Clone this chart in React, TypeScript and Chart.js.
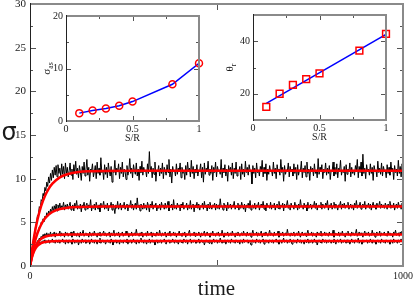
import React, { useEffect, useRef } from 'react';
import { Chart, registerables } from 'chart.js';
Chart.register(...registerables);

// ---------- main panel data (sampled every 2.5 time units, 0..1000) ----------
const T_END = 1000;

const SIGMA_1 = [
  0, 0.9, 1.9, 2.4, 3.4, 3.7, 4.6, 4.9, 5.8, 5.9, 6.8, 6.6, 7.6, 7.4, 8.3, 8.0, 9.0, 8.6, 9.6, 9.1,
  10.2, 9.5, 10.6, 9.8, 11.0, 10.1, 11.3, 10.4, 11.5, 10.2, 11.6, 10.6, 11.2, 10.3, 11.7, 10.5, 11.4, 10.0, 11.8, 10.6,
  11.3, 10.2, 10.9, 11.8, 10.4, 11.1, 9.9, 11.6, 10.7, 12.0, 10.5, 11.2, 10.1, 11.5, 10.8, 9.8, 11.4, 10.6, 11.9, 10.3,
  11.0, 12.2, 10.4, 11.3, 9.7, 11.1, 10.9, 11.7, 10.2, 10.8, 11.5, 10.0, 11.9, 10.6, 11.2, 10.4, 12.4, 10.7, 11.0, 9.9,
  11.6, 10.5, 11.3, 10.1, 11.8, 10.9, 10.3, 11.4, 9.6, 11.0, 10.7, 12.1, 10.4, 11.2, 10.8, 11.7, 10.0, 11.3, 10.6, 11.9,
  10.2, 11.1, 10.8, 9.9, 11.5, 10.4, 11.0, 12.3, 10.6, 11.2, 10.1, 11.6, 10.9, 10.5, 11.8, 10.3, 11.1, 9.8, 11.4, 10.7,
  12.0, 10.4, 11.3, 10.8, 11.0, 10.2, 11.7, 10.6, 13.1, 10.9, 11.4, 10.1, 11.2, 10.5, 11.9, 9.7, 11.0, 10.8, 11.5, 10.3,
  11.2, 10.6, 11.8, 10.0, 11.3, 10.9, 10.4, 11.6, 10.7, 12.2, 10.2, 11.1, 9.5, 11.4, 10.8, 11.0, 10.3, 11.7, 10.5, 11.2,
  10.9, 11.8, 10.1, 11.3, 10.6, 11.0, 9.9, 11.5, 10.4, 11.9, 10.8, 11.2, 10.2, 12.1, 10.6, 11.4, 10.0, 11.1, 10.7, 11.6,
  10.3, 11.0, 10.9, 11.7, 10.1, 11.3, 9.6, 11.8, 10.5, 11.2, 10.8, 12.0, 10.4, 11.1, 10.6, 11.5, 9.8, 11.3, 10.7, 11.9,
  10.2, 11.4, 10.9, 11.0, 10.5, 12.2, 10.1, 11.2, 10.7, 11.6, 10.3, 11.1, 9.7, 11.5, 10.8, 11.3, 10.4, 11.8, 10.0, 11.2,
  10.6, 11.9, 10.3, 11.0, 10.8, 11.4, 9.9, 11.7, 10.5, 11.1, 10.2, 12.0, 10.7, 11.3, 10.4, 11.6, 10.9, 11.0, 9.4, 11.5,
  10.6, 11.2, 10.1, 11.8, 10.7, 11.0, 10.3, 11.4, 10.9, 12.1, 10.2, 11.3, 10.6, 11.7, 9.8, 11.1, 10.5, 11.5, 10.8, 11.0,
  10.3, 11.9, 10.6, 11.2, 10.0, 11.6, 10.8, 11.1, 10.4, 12.2, 10.7, 11.3, 9.7, 11.5, 10.5, 11.0, 10.9, 11.8, 10.2, 11.4,
  10.8, 11.1, 10.3, 11.7, 10.6, 11.3, 9.9, 11.6, 10.4, 11.0, 10.9, 12.0, 10.1, 11.2, 10.7, 11.5, 10.2, 11.9, 10.6, 11.1,
  9.8, 11.4, 10.8, 11.2, 10.3, 11.7, 10.6, 11.0, 10.1, 12.3, 10.5, 11.3, 10.9, 11.6, 10.0, 11.1, 10.7, 11.8, 10.4, 11.2,
  10.6, 11.5, 9.9, 11.0, 10.8, 11.9, 10.3, 11.3, 10.5, 11.7, 10.1, 11.2, 10.9, 12.1, 10.4, 11.0, 10.7, 11.4, 9.7, 11.6,
  10.5, 11.1, 10.8, 11.8, 10.2, 11.3, 10.6, 11.0, 10.4, 11.5, 10.9, 12.2, 10.1, 11.4, 10.7, 11.9, 10.3, 12.8, 10.6, 11.2,
  10.0, 11.6, 10.8, 11.1, 10.4, 11.7, 10.6, 11.3, 9.8, 11.5, 10.9, 11.0, 10.2, 12.0, 10.7, 11.2, 10.5, 11.8, 10.3, 11.4,
  10.9, 11.0, 10.1, 11.6, 10.6, 11.3, 10.4, 11.9, 10.8, 11.2, 9.9, 11.5, 10.7, 11.1, 10.3, 12.1, 10.6, 11.4, 10.2, 11.7,
  11.0,
];

const SIGMA_2 = [
  0, 0.7, 1.4, 1.8, 2.4, 2.7, 3.2, 3.4, 3.9, 3.9, 4.5, 4.4, 5.0, 4.8, 5.4, 5.1, 5.7, 5.5, 6.1, 5.7,
  6.3, 5.9, 6.5, 6.1, 6.8, 6.2, 6.9, 6.4, 7.1, 6.3, 7.0, 6.6, 7.2, 6.5, 6.9, 6.7, 7.3, 6.4, 7.0, 6.6,
  7.1, 6.5, 6.9, 7.3, 6.4, 6.8, 7.0, 6.3, 7.2, 6.7, 7.5, 6.5, 6.9, 6.6, 7.1, 6.2, 7.0, 6.8, 7.3, 6.4,
  6.9, 7.2, 6.5, 7.0, 6.7, 7.6, 6.3, 6.9, 6.6, 7.1, 6.4, 7.3, 6.8, 6.5, 7.0, 6.2, 7.2, 6.7, 6.9, 7.4,
  6.5, 7.0, 6.6, 7.2, 6.3, 6.9, 6.8, 7.3, 6.4, 7.1, 6.7, 6.0, 7.0, 6.6, 7.4, 6.5, 6.9, 7.2, 6.4, 7.0,
  6.7, 7.3, 6.5, 6.9, 7.1, 6.3, 7.0, 6.8, 7.5, 6.6, 7.1, 6.4, 6.9, 7.2, 6.5, 7.8, 6.7, 7.0, 6.3, 7.1,
  6.8, 6.5, 7.2, 6.6, 7.0, 6.4, 7.3, 6.9, 6.2, 7.1, 6.7, 7.4, 6.5, 7.0, 6.8, 7.2, 6.3, 6.9, 6.6, 7.1,
  6.4, 7.3, 6.8, 7.0, 6.5, 7.2, 6.6, 6.9, 7.4, 6.3, 7.0, 6.7, 7.1, 6.4, 7.6, 6.6, 6.9, 6.5, 7.2, 6.8,
  7.0, 6.3, 7.1, 6.7, 7.3, 6.5, 6.9, 6.8, 7.2, 6.4, 7.0, 6.6, 7.5, 6.5, 6.9, 7.1, 6.2, 7.0, 6.7, 7.3,
  6.6, 7.1, 6.4, 6.9, 6.8, 7.2, 6.5, 7.4, 6.7, 7.0, 6.3, 7.1, 6.6, 7.3, 6.8, 6.5, 7.0, 6.9, 7.2, 6.4,
  7.1, 6.6, 7.0, 6.5, 7.7, 6.8, 6.9, 6.4, 7.2, 6.7, 7.0, 6.3, 7.3, 6.6, 6.9, 7.1, 6.5, 7.0, 6.8, 7.4,
  6.5, 6.9, 6.7, 7.2, 6.4, 7.0, 6.6, 7.3, 6.8, 6.5, 7.1, 6.2, 7.0, 6.7, 7.2, 6.6, 7.5, 6.4, 6.9, 7.0,
  6.6, 7.2, 6.5, 7.0, 6.8, 7.3, 6.4, 6.9, 7.1, 6.7, 7.4, 6.5, 7.0, 6.3, 7.2, 6.8, 6.9, 6.6, 7.3, 6.5,
  7.0, 6.7, 7.2, 6.4, 6.9, 7.1, 6.6, 7.4, 6.5, 7.0, 6.8, 7.2, 6.3, 7.1, 6.7, 6.9, 7.5, 6.6, 7.0, 6.4,
  7.2, 6.8, 6.9, 6.5, 7.3, 6.7, 7.0, 6.4, 7.1, 6.6, 7.6, 6.8, 6.9, 6.5, 7.2, 6.7, 7.0, 6.3, 7.3, 6.6,
  6.9, 7.1, 6.5, 7.0, 6.8, 7.4, 6.6, 7.2, 6.4, 6.9, 7.0, 6.7, 7.3, 6.5, 7.1, 6.8, 6.6, 7.2, 6.9, 7.5,
  6.4, 7.0, 6.7, 7.2, 6.5, 6.9, 7.3, 6.6, 7.1, 6.8, 6.4, 7.0, 6.9, 7.4, 6.5, 7.1, 6.7, 7.2, 6.6, 7.0,
  6.8, 7.3, 6.5, 6.9, 7.1, 6.6, 7.0, 6.4, 7.2, 6.7, 7.5, 6.6, 7.0, 6.8, 7.3, 6.5, 6.9, 7.1, 6.7, 7.4,
  6.5, 7.0, 6.8, 7.2, 6.6, 7.1, 6.4, 6.9, 7.3, 6.7, 7.0, 6.5, 7.2, 6.8, 6.9, 7.4, 6.6, 7.1, 6.7, 7.0,
  6.6, 7.2, 6.9, 6.5, 7.1, 6.8, 7.4, 6.6, 7.0, 6.7, 7.2, 6.4, 6.9, 7.1, 6.6, 7.3, 6.8, 7.0, 6.5, 7.2,
  6.9,
];

const SIGMA_3 = [
  0, 0.6, 1.1, 1.5, 1.9, 2.1, 2.5, 2.5, 2.9, 2.8, 3.2, 3.0, 3.4, 3.2, 3.6, 3.3, 3.7, 3.4, 3.8, 3.4,
  3.7, 3.5, 3.9, 3.4, 3.7, 3.6, 3.9, 3.3, 3.8, 3.5, 3.7, 3.6, 4.0, 3.4, 3.8, 3.5, 3.7, 3.3, 3.9, 3.6,
  3.8, 3.4, 3.7, 3.5, 3.9, 3.3, 3.6, 4.0, 3.5, 3.7, 3.4, 3.8, 3.6, 3.3, 3.9, 3.5, 3.7, 4.1, 3.4, 3.6,
  3.8, 3.5, 3.7, 3.3, 3.9, 3.6, 3.4, 3.8, 3.5, 4.0, 3.6, 3.7, 3.3, 3.8, 3.5, 3.9, 3.4, 3.6, 3.7, 4.0,
  3.5, 3.8, 3.4, 3.7, 3.6, 3.9, 3.3, 3.8, 3.5, 3.7, 4.1, 3.4, 3.6, 3.8, 3.5, 3.9, 3.3, 3.7, 3.6, 3.9,
  3.4, 3.7, 3.5, 4.0, 3.6, 3.8, 3.3, 3.7, 3.5, 3.9, 3.4, 3.6, 3.8, 3.5, 4.2, 3.6, 3.7, 3.4, 3.8, 3.5,
  3.9, 3.3, 3.7, 3.6, 3.8, 3.4, 4.0, 3.5, 3.7, 3.6, 3.9, 3.3, 3.8, 3.5, 3.7, 3.4, 3.9, 3.6, 3.5, 4.1,
  3.6, 3.4, 3.8, 3.5, 3.7, 3.9, 3.3, 3.6, 3.8, 3.5, 4.0, 3.4, 3.7, 3.6, 3.9, 3.5, 3.8, 3.3, 3.7, 3.6,
  4.0, 3.5, 3.7, 3.4, 3.8, 3.6, 3.9, 3.3, 3.7, 3.5, 3.8, 4.1, 3.4, 3.6, 3.7, 3.5, 3.9, 3.4, 3.8, 3.6,
  3.5, 3.9, 3.6, 3.3, 3.8, 3.5, 3.7, 4.0, 3.4, 3.6, 3.9, 3.5, 3.7, 3.3, 3.8, 3.6, 4.0, 3.5, 3.7, 3.4,
  3.8, 3.6, 3.9, 3.4, 3.7, 3.5, 4.1, 3.6, 3.3, 3.8, 3.5, 3.7, 3.9, 3.4, 3.6, 3.8, 3.5, 4.0, 3.6, 3.7,
  3.3, 3.8, 3.5, 3.9, 3.6, 3.4, 3.7, 3.8, 3.5, 4.0, 3.6, 3.7, 3.4, 3.9, 3.5, 3.6, 3.8, 3.3, 3.7, 4.1,
  3.5, 3.7, 3.6, 3.9, 3.4, 3.8, 3.5, 3.7, 4.0, 3.3, 3.6, 3.8, 3.5, 3.9, 3.6, 3.4, 3.7, 4.1, 3.5, 3.8,
  3.6, 3.4, 3.9, 3.5, 3.7, 3.6, 4.0, 3.3, 3.8, 3.5, 3.7, 3.9, 3.4, 3.6, 3.8, 3.5, 4.2, 3.6, 3.7, 3.4,
  3.8, 3.5, 3.7, 3.9, 3.4, 3.6, 3.8, 3.5, 4.0, 3.6, 3.3, 3.7, 3.9, 3.5, 3.6, 3.8, 3.4, 3.7, 4.1, 3.5,
  3.7, 3.6, 3.9, 3.4, 3.8, 3.5, 3.7, 3.3, 3.9, 3.6, 3.8, 3.5, 4.0, 3.4, 3.7, 3.6, 3.9, 3.5, 3.8, 3.6,
  3.4, 3.9, 3.6, 3.7, 3.5, 4.1, 3.3, 3.8, 3.6, 3.7, 3.5, 3.9, 3.4, 3.8, 3.6, 4.0, 3.5, 3.7, 3.3, 3.8,
  3.6, 4.0, 3.5, 3.7, 3.4, 3.9, 3.6, 3.8, 3.5, 3.7, 4.2, 3.4, 3.6, 3.9, 3.5, 3.8, 3.6, 3.3, 3.7, 4.0,
  3.5, 3.8, 3.6, 3.9, 3.4, 3.7, 3.5, 4.1, 3.6, 3.8, 3.3, 3.7, 3.9, 3.5, 3.6, 4.0, 3.4, 3.8, 3.6, 3.7,
  3.9, 3.5, 3.7, 3.4, 4.0, 3.6, 3.8, 3.5, 3.7, 3.3, 3.9, 3.6, 4.1, 3.5, 3.7, 3.8, 3.4, 3.9, 3.6, 4.0,
  3.7,
];

const SIGMA_4 = [
  0, 0.6, 1.1, 1.4, 1.7, 1.9, 2.2, 2.2, 2.5, 2.4, 2.7, 2.5, 2.8, 2.6, 2.9, 2.7, 3.0, 2.6, 2.9, 2.7,
  3.0, 2.6, 2.9, 2.8, 3.1, 2.7, 2.9, 2.6, 3.0, 2.8, 2.7, 3.0, 2.6, 2.9, 2.8, 3.1, 2.7, 2.9, 2.5, 3.0,
  2.8, 2.6, 3.0, 2.7, 2.9, 2.5, 3.1, 2.8, 2.6, 2.9, 2.7, 3.0, 2.4, 2.8, 2.9, 2.6, 3.1, 2.7, 2.8, 3.0,
  2.6, 2.9, 2.7, 3.0, 2.5, 2.8, 3.1, 2.7, 2.9, 2.6, 3.0, 2.8, 2.5, 2.9, 2.7, 3.2, 2.6, 2.8, 3.0, 2.7,
  2.9, 2.5, 2.8, 3.0, 2.7, 2.9, 2.6, 3.1, 2.8, 2.4, 2.9, 2.7, 3.0, 2.6, 2.8, 2.9, 2.5, 3.0, 2.7, 2.9,
  2.6, 3.0, 2.8, 2.7, 3.1, 2.5, 2.9, 2.7, 3.0, 2.6, 2.8, 3.1, 2.7, 2.9, 2.5, 3.0, 2.8, 2.6, 2.9, 3.2,
  2.7, 2.9, 2.6, 3.0, 2.8, 2.5, 2.9, 2.7, 3.1, 2.6, 2.8, 3.0, 2.7, 2.9, 2.4, 2.8, 3.0, 2.6, 2.9, 2.7,
  3.0, 2.6, 2.9, 2.8, 3.1, 2.7, 2.5, 2.9, 2.8, 3.0, 2.6, 2.9, 2.7, 3.1, 2.8, 2.6, 3.0, 2.7, 2.9, 2.5,
  2.8, 3.0, 2.7, 2.9, 2.6, 3.1, 2.8, 2.7, 3.0, 2.5, 2.9, 2.8, 3.1, 2.6, 2.9, 2.7, 3.0, 2.8, 2.6, 2.9,
  2.7, 3.1, 2.6, 2.8, 3.0, 2.7, 2.9, 2.4, 2.8, 3.0, 2.7, 2.9, 2.6, 3.0, 2.8, 2.5, 2.9, 3.1, 2.7, 2.8,
  3.0, 2.6, 2.9, 2.7, 3.2, 2.8, 2.6, 2.9, 2.7, 3.0, 2.5, 2.8, 3.0, 2.7, 2.9, 2.6, 3.1, 2.8, 2.7, 2.9,
  2.6, 3.0, 2.8, 2.7, 2.9, 2.5, 3.0, 2.8, 2.6, 3.1, 2.7, 2.9, 2.8, 3.0, 2.6, 2.9, 2.7, 2.4, 2.9, 3.0,
  2.7, 2.9, 2.6, 3.1, 2.8, 2.7, 3.0, 2.6, 2.9, 2.8, 3.1, 2.5, 2.8, 3.0, 2.7, 2.9, 2.6, 3.0, 2.8, 2.7,
  3.0, 2.6, 2.9, 2.8, 3.1, 2.7, 2.9, 2.5, 3.0, 2.8, 2.6, 2.9, 3.2, 2.7, 2.8, 3.0, 2.6, 2.9, 2.7, 3.1,
  2.8, 2.5, 2.9, 3.0, 2.7, 2.9, 2.6, 3.1, 2.8, 2.7, 3.0, 2.6, 2.9, 2.8, 2.5, 3.0, 2.7, 2.9, 3.1, 2.6,
  2.9, 2.7, 3.0, 2.6, 2.8, 3.1, 2.7, 2.9, 2.4, 2.8, 3.0, 2.7, 2.9, 2.6, 3.1, 2.8, 2.7, 3.0, 2.6, 2.9,
  2.7, 3.0, 2.8, 2.6, 2.9, 2.7, 3.1, 2.8, 2.5, 2.9, 3.0, 2.7, 2.8, 3.1, 2.6, 2.9, 2.7, 3.0, 2.8, 2.6,
  3.0, 2.7, 2.9, 2.5, 2.8, 3.1, 2.7, 2.9, 2.6, 3.0, 2.8, 2.7, 3.2, 2.6, 2.9, 2.8, 2.5, 3.0, 2.7, 2.9,
  2.8, 3.0, 2.6, 2.9, 2.7, 3.1, 2.8, 2.6, 3.0, 2.7, 2.9, 2.5, 2.8, 3.0, 2.7, 2.9, 2.6, 3.1, 2.8, 2.7,
  2.9, 2.6, 3.0, 2.8, 2.7, 2.9, 2.5, 3.0, 2.8, 2.6, 3.1, 2.7, 2.9, 2.8, 2.6, 3.0, 2.7, 2.9, 3.1, 2.8,
  2.9,
];

// fitted curves (red), read at these times
const FIT_TIME = [0, 5, 10, 15, 20, 30, 40, 50, 60, 80, 100, 130, 160, 200, 300, 400, 500, 600, 700, 800, 900, 1000];
const FIT_1 = [0, 1.68, 3.09, 4.29, 5.31, 6.89, 8.02, 8.84, 9.43, 10.15, 10.51, 10.76, 10.85, 10.89, 10.9, 10.9, 10.9, 10.9, 10.9, 10.9, 10.9, 10.9];
const FIT_2 = [0, 1.23, 2.24, 3.07, 3.75, 4.75, 5.43, 5.88, 6.18, 6.52, 6.68, 6.76, 6.79, 6.8, 6.8, 6.8, 6.8, 6.8, 6.8, 6.8, 6.8, 6.8];
const FIT_3 = [0, 1.02, 1.75, 2.28, 2.65, 3.11, 3.35, 3.47, 3.53, 3.58, 3.6, 3.6, 3.6, 3.6, 3.6, 3.6, 3.6, 3.6, 3.6, 3.6, 3.6, 3.6];
const FIT_4 = [0, 0.97, 1.61, 2.03, 2.31, 2.62, 2.75, 2.8, 2.83, 2.85, 2.85, 2.85, 2.85, 2.85, 2.85, 2.85, 2.85, 2.85, 2.85, 2.85, 2.85, 2.85];

const MAIN_X_TICKS = [0, 500, 1000];
const MAIN_X_LABELS = [0, 1000];
const MAIN_Y_TICKS = [0, 5, 10, 15, 20, 25, 30];
const MAIN_Y_MINOR = [2.5, 7.5, 12.5, 17.5, 22.5, 27.5];

// ---------- insets ----------
const SR = [0.1, 0.2, 0.3, 0.4, 0.5, 0.8, 1.0];
const SIGMA_AS = [1.5, 2.0, 2.4, 2.9, 3.7, 7.0, 11.0];
const THETA_R = [15.0, 20.0, 23.4, 25.6, 27.8, 36.4, 42.8];
const THETA_FIT_SR = [0.1, 1.0];
const THETA_FIT = [16.3, 42.6];

const INSET_X_TICKS = [0, 0.5, 1];
const INSET_X_MINOR = [0.25, 0.75];
const SIG_Y_TICKS = [0, 10, 20];
const SIG_Y_MINOR = [5, 15];
const THETA_Y_TICKS = [10, 20, 30, 40, 50];
const THETA_Y_LABELS = [20, 40];
const THETA_Y_MAJOR = [20, 40];
const THETA_Y_MINOR = [10, 30, 50];

const SERIF = "'Liberation Serif', 'DejaVu Serif', serif";
const SANS = "'DejaVu Sans', sans-serif";
const INK = '#1a1a1a';

const seriesXY = (vals: number[]) => vals.map((v, i) => ({ x: (i * T_END) / (vals.length - 1), y: v }));
const pairXY = (xs: number[], ys: number[]) => xs.map((x, i) => ({ x, y: ys[i] }));

type FrameCfg = {
  xMajor: number[]; xMinor: number[]; yMajor: number[]; yMinor: number[];
  majorLen: number; minorLen: number;
  texts: (ctx: CanvasRenderingContext2D, a: any) => void;
};

const framePlugin = (cfg: FrameCfg) => ({
  id: 'frame',
  afterDraw(chart: any) {
    const { ctx, chartArea: a, scales } = chart;
    const xs = scales.x, ys = scales.y;
    ctx.save();
    ctx.strokeStyle = '#555';
    ctx.lineWidth = 1;
    ctx.beginPath();
    const vt = (v: number, len: number) => {
      const px = Math.round(xs.getPixelForValue(v)) + 0.5;
      ctx.moveTo(px, a.bottom); ctx.lineTo(px, a.bottom - len);
      ctx.moveTo(px, a.top); ctx.lineTo(px, a.top + len);
    };
    const ht = (v: number, len: number) => {
      const py = Math.round(ys.getPixelForValue(v)) + 0.5;
      ctx.moveTo(a.left, py); ctx.lineTo(a.left + len, py);
      ctx.moveTo(a.right, py); ctx.lineTo(a.right - len, py);
    };
    cfg.xMajor.forEach((v) => vt(v, cfg.majorLen));
    cfg.xMinor.forEach((v) => vt(v, cfg.minorLen));
    cfg.yMajor.forEach((v) => ht(v, cfg.majorLen));
    cfg.yMinor.forEach((v) => ht(v, cfg.minorLen));
    ctx.stroke();
    ctx.strokeStyle = '#8a8a8a';
    ctx.lineWidth = 2;
    ctx.beginPath();
    ctx.moveTo(a.left, a.top); ctx.lineTo(a.right, a.top); ctx.lineTo(a.right, a.bottom); ctx.lineTo(a.left, a.bottom);
    ctx.stroke();
    ctx.strokeStyle = '#222';
    ctx.lineWidth = 1;
    ctx.beginPath();
    ctx.moveTo(a.left + 0.5, a.top - 1); ctx.lineTo(a.left + 0.5, a.bottom + 1);
    ctx.stroke();
    ctx.fillStyle = INK;
    cfg.texts(ctx, a);
    ctx.restore();
  },
});

const rotatedSubLabel = (ctx: CanvasRenderingContext2D, x: number, y: number, main: string, sub: string, size: number) => {
  ctx.save();
  ctx.translate(x, y);
  ctx.rotate(-Math.PI / 2);
  ctx.textBaseline = 'alphabetic';
  ctx.textAlign = 'left';
  ctx.font = `${size}px ${SERIF}`;
  const w1 = ctx.measureText(main).width;
  ctx.font = `${size * 0.7}px ${SERIF}`;
  const w2 = ctx.measureText(sub).width;
  const start = -(w1 + w2) / 2;
  ctx.font = `${size}px ${SERIF}`;
  ctx.fillText(main, start, size * 0.35);
  ctx.font = `${size * 0.7}px ${SERIF}`;
  ctx.fillText(sub, start + w1, size * 0.6);
  ctx.restore();
};

const fixedScale = (min: number, max: number, ticks: number[], labels: number[], fontSize: number, pad: number) => ({
  type: 'linear' as const,
  min, max,
  afterBuildTicks: (s: any) => { s.ticks = ticks.map((value) => ({ value })); },
  ticks: {
    autoSkip: false, maxRotation: 0, padding: pad, color: INK,
    font: { family: SERIF, size: fontSize },
    callback: (v: any) => (labels.includes(Number(v)) ? String(v) : ''),
  },
  grid: { display: false, drawTicks: false },
  border: { display: false },
});

function MainChart() {
  const ref = useRef<HTMLCanvasElement>(null);
  useEffect(() => {
    const fitDs = (d: number[]) => ({
      data: pairXY(FIT_TIME, d), borderColor: '#ff0000', borderWidth: 2.5, pointRadius: 0,
      cubicInterpolationMode: 'monotone' as const, fill: false,
    });
    const noiseDs = (d: number[]) => ({
      data: seriesXY(d), borderColor: '#000000', borderWidth: 1, pointRadius: 0, tension: 0, fill: false,
    });
    const xScale: any = fixedScale(0, T_END, MAIN_X_TICKS, MAIN_X_LABELS, 10, 4);
    xScale.afterFit = (s: any) => { s.height = 31; s.paddingLeft = 0; s.paddingRight = 0; };
    const yScale: any = fixedScale(0, 30, MAIN_Y_TICKS, MAIN_Y_TICKS, 11, 4);
    yScale.afterFit = (s: any) => { s.width = 30; s.paddingTop = 0; s.paddingBottom = 0; };
    const chart = new Chart(ref.current!, {
      type: 'line',
      data: {
        datasets: [fitDs(FIT_1), fitDs(FIT_2), fitDs(FIT_3), fitDs(FIT_4), noiseDs(SIGMA_1), noiseDs(SIGMA_2), noiseDs(SIGMA_3), noiseDs(SIGMA_4)],
      },
      options: {
        responsive: false, animation: false, parsing: false as any,
        layout: { padding: { top: 4, right: 12, left: 0, bottom: 0 } },
        plugins: { legend: { display: false }, tooltip: { enabled: false } },
        scales: { x: xScale, y: yScale },
      },
      plugins: [framePlugin({
        xMajor: MAIN_X_TICKS, xMinor: [], yMajor: MAIN_Y_TICKS, yMinor: MAIN_Y_MINOR,
        majorLen: 6, minorLen: 3,
        texts: (ctx, a) => {
          ctx.textAlign = 'center';
          ctx.textBaseline = 'alphabetic';
          ctx.font = `24px ${SANS}`;
          ctx.fillText('σ', a.left - 21, 140);
          ctx.font = `21px ${SERIF}`;
          ctx.fillText('time', (a.left + a.right) / 2, a.bottom + 29);
        },
      })],
    });
    return () => chart.destroy();
  }, []);
  return <canvas ref={ref} width={415} height={297} style={{ position: 'absolute', left: 0, top: 0, width: 415, height: 297 }} />;
}

function InsetChart(props: { kind: 'sigma' | 'theta'; left: number; top: number }) {
  const ref = useRef<HTMLCanvasElement>(null);
  useEffect(() => {
    const isSigma = props.kind === 'sigma';
    const datasets: any[] = isSigma
      ? [
          { data: pairXY(SR, SIGMA_AS), showLine: false, pointStyle: 'circle', pointRadius: 3.5, pointBorderWidth: 1.5,
            pointBorderColor: '#ff0000', pointBackgroundColor: 'rgba(0,0,0,0)', clip: false },
          { data: pairXY(SR, SIGMA_AS), borderColor: '#0000ff', borderWidth: 1.5, pointRadius: 0, tension: 0, fill: false },
        ]
      : [
          { data: pairXY(SR, THETA_R), showLine: false, pointStyle: 'rect', pointRadius: 4.8, pointBorderWidth: 1.5,
            pointBorderColor: '#ff0000', pointBackgroundColor: 'rgba(0,0,0,0)', clip: false },
          { data: pairXY(THETA_FIT_SR, THETA_FIT), borderColor: '#0000ff', borderWidth: 1.5, pointRadius: 0, tension: 0, fill: false },
        ];
    const xScale: any = fixedScale(0, 1, INSET_X_TICKS, INSET_X_TICKS, 10, 2);
    xScale.afterFit = (s: any) => { s.height = 23; s.paddingLeft = 0; s.paddingRight = 0; };
    const yScale: any = isSigma
      ? fixedScale(0, 20, SIG_Y_TICKS, SIG_Y_TICKS, 10, 3)
      : fixedScale(10, 50, THETA_Y_TICKS, THETA_Y_LABELS, 10, 3);
    yScale.afterFit = (s: any) => { s.width = 30; s.paddingTop = 0; s.paddingBottom = 0; };
    const chart = new Chart(ref.current!, {
      type: 'line',
      data: { datasets },
      options: {
        responsive: false, animation: false, parsing: false as any,
        layout: { padding: { top: 8, right: 7, left: 0, bottom: 0 } },
        plugins: { legend: { display: false }, tooltip: { enabled: false } },
        scales: { x: xScale, y: yScale },
      },
      plugins: [framePlugin({
        xMajor: INSET_X_TICKS, xMinor: INSET_X_MINOR,
        yMajor: isSigma ? SIG_Y_TICKS : THETA_Y_MAJOR, yMinor: isSigma ? SIG_Y_MINOR : THETA_Y_MINOR,
        majorLen: 5, minorLen: 3,
        texts: (ctx, a) => {
          ctx.textAlign = 'center';
          ctx.textBaseline = 'middle';
          ctx.font = `10px ${SERIF}`;
          ctx.fillText('S/R', (a.left + a.right) / 2, a.bottom + 17);
          if (isSigma) rotatedSubLabel(ctx, a.left - 20, (a.top + a.bottom) / 2, 'σ', 'as', 11);
          else rotatedSubLabel(ctx, a.left - 24, (a.top + a.bottom) / 2, 'θ', 'r', 11);
        },
      })],
    });
    return () => chart.destroy();
  }, []);
  return <canvas ref={ref} width={170} height={136} style={{ position: 'absolute', left: props.left, top: props.top, width: 170, height: 136 }} />;
}

export default function App() {
  useEffect(() => {
    document.body.style.margin = '0';
  }, []);
  return (
    <div style={{ position: 'fixed', left: 0, top: 0, width: 415, height: 297, background: '#ffffff', overflow: 'hidden' }}>
      <MainChart />
      <InsetChart kind="sigma" left={36} top={8} />
      <InsetChart kind="theta" left={223} top={7} />
    </div>
  );
}
